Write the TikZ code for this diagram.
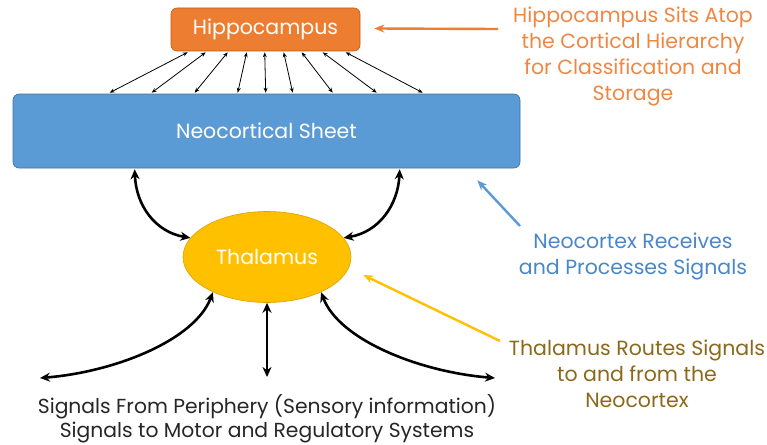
\documentclass[tikz,border=0pt]{standalone}
\usepackage{fontspec}
\setmainfont{Poppins}
\usetikzlibrary{arrows.meta,calc,shapes.geometric}
\definecolor{hipfill}{HTML}{ED7D31}
\definecolor{hipdraw}{HTML}{C55A11}
\definecolor{sheetfill}{HTML}{5B9BD5}
\definecolor{sheetdraw}{HTML}{41719C}
\definecolor{thfill}{HTML}{FFC000}
\definecolor{thdraw}{HTML}{D9A300}
\definecolor{orangetxt}{HTML}{EF8743}
\definecolor{bluetxt}{HTML}{4A87C6}
\definecolor{goldtxt}{HTML}{8A6A1A}
\tikzset{
  boxnode/.style={draw, rounded corners=6pt, line width=0.6pt, text=white, font=\fontsize{20.5}{24}\selectfont, inner sep=0pt},
  smallarrow/.style={{Stealth[length=5pt,width=4pt]}-{Stealth[length=5pt,width=4pt]}, line width=0.8pt, black},
  bigarrow/.style={{Stealth[length=10pt,width=9pt]}-{Stealth[length=10pt,width=9pt]}, line width=2.6pt, black},
  annot/.style={align=center, font=\fontsize{20.5}{26}\selectfont},
  callout/.style={-{Stealth[length=10pt,width=8pt]}, line width=2.4pt},
  bottomtxt/.style={align=center, font=\fontsize{20.3}{23.5}\selectfont, text=black!85}
}
\begin{document}
\begin{tikzpicture}[x=1pt,y=-1pt]
\useasboundingbox (0,0) rectangle (767,444);
\node[boxnode, fill=hipfill, draw=hipdraw, minimum width=189pt, minimum height=43pt] (hip) at (265.5,29.5) {Hippocampus};
\node[boxnode, fill=sheetfill, draw=sheetdraw, minimum width=507pt, minimum height=74pt] (sheet) at (266.5,131) {Neocortical Sheet};
\node[ellipse, draw=thdraw, line width=0.6pt, fill=thfill, text=white, font=\fontsize{20.5}{24}\selectfont, minimum width=168pt, minimum height=91pt, inner sep=0pt] (th) at (267,257) {Thalamus};

\foreach \a/\b in {188/110,206/152,228/195,247/238,265/266,284/293,302/333,323/377,346/423}
  \draw[smallarrow] ($(hip.south west)+(\a-171,1)$) -- ($(sheet.north west)+(\b-13,-1)$);

\draw[bigarrow] ($(sheet.south west)+(122,1)$) .. controls (136,205) and (155,232) .. (th.166);
\draw[bigarrow] ($(sheet.south west)+(387,1)$) .. controls (398,205) and (379,232) .. (th.14);
\coordinate (bl) at (40,378);
\coordinate (bm) at (267,377);
\coordinate (br) at (495,378);
\draw[bigarrow] (th.213) .. controls (195,340) and (115,372) .. (bl);
\draw[bigarrow] (th.south) -- (bm);
\draw[bigarrow] (th.327) .. controls (339,340) and (420,372) .. (br);

\node[bottomtxt] (bot) at (267,419) {Signals From Periphery (Sensory information)\\Signals to Motor and Regulatory Systems};

\node[annot, text=orangetxt] (a1) at (633,56) {Hippocampus Sits Atop\\the Cortical Hierarchy\\for Classification and\\Storage};
\node[annot, text=bluetxt] (a2) at (633,256) {Neocortex Receives\\and Processes Signals};
\node[annot, text=goldtxt] (a3) at (637,374) {Thalamus Routes Signals\\to and from the\\Neocortex};

\coordinate (c1s) at (498,29);
\coordinate (c2s) at (520,226);
\coordinate (c3s) at (500,341);
\draw[callout, draw=hipfill] (c1s) -- ($(hip.east)+(14,-1)$);
\draw[callout, draw=sheetfill] (c2s) -- ($(sheet.south east)+(-43,12)$);
\draw[callout, draw=thfill] (c3s) -- ($(th.east)+(12,18)$);
\end{tikzpicture}
\end{document}
